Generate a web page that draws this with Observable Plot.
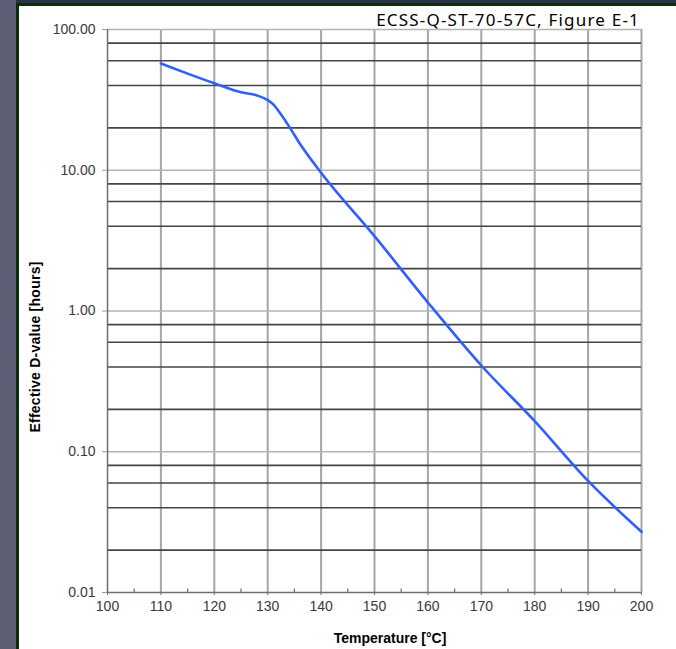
<!DOCTYPE html>
<html><head><meta charset="utf-8">
<script src="https://cdn.jsdelivr.net/npm/d3@7"></script>
<script src="https://cdn.jsdelivr.net/npm/@observablehq/plot@0.6"></script>
<style>
html,body{margin:0;padding:0}
body{width:676px;height:649px;background:#5e5e76;position:relative;overflow:hidden;font-family:"Liberation Sans",Arial,sans-serif}
#topband{position:absolute;left:16px;top:0;width:660px;height:3px;background:#2b3050}
#panel{position:absolute;left:16px;top:3px;width:660px;height:646px;background:#0b2e0b}
#inner{position:absolute;left:19px;top:6px;width:657px;height:643px;background:#fff}
#chart{position:absolute;left:0;top:0}
#title{position:absolute;right:36px;top:2px;font-family:"Noto Sans",sans-serif;font-size:17px;color:#000;letter-spacing:1.2px;white-space:nowrap}
#ylab{position:absolute;left:16px;top:341px;font-weight:bold;font-size:14px;color:#000;letter-spacing:0.25px;transform:translate(-50%,-50%) rotate(-90deg);white-space:nowrap}
#xlab{position:absolute;left:371px;top:632px;font-weight:bold;font-size:14px;color:#000;transform:translate(-50%,-50%);white-space:nowrap}
</style></head>
<body>
<div id="topband"></div>
<div id="panel"></div>
<div id="inner">
  <div id="chart"></div>
  <div id="title">ECSS-Q-ST-70-57C, Figure E-1</div>
  <div id="ylab">Effective D-value [hours]</div>
  <div id="xlab">Temperature [°C]</div>
</div>
<script>
const temps = [110, 115, 120, 125, 128, 130, 131, 132, 134, 136, 140, 150, 160, 170, 180, 190, 200];
const dvals = [57.3, 48.6, 41.5, 35.8, 34, 31.5, 29.5, 26.5, 20.5, 15.5, 9.6, 3.4, 1.15, 0.41, 0.165, 0.062, 0.027];
const xTicks = [100, 110, 120, 130, 140, 150, 160, 170, 180, 190, 200];
const xMinor = [105, 115, 125, 135, 145, 155, 165, 175, 185, 195];
const yDecades = [0.01, 0.1, 1, 10, 100];
const yMinor = [0.02, 0.04, 0.06, 0.08, 0.2, 0.4, 0.6, 0.8, 2, 4, 6, 8, 20, 40, 60, 80];

const data = temps.map((t, i) => ({t, d: dvals[i]}));

const chart = Plot.plot({
  width: 657,
  height: 643,
  marginLeft: 88,
  marginRight: 35,
  marginTop: 23,
  marginBottom: 57,
  style: {fontFamily: "'Liberation Sans', Arial, sans-serif", fontSize: "14px", color: "#3a3a3a", background: "transparent"},
  x: {domain: [100, 200]},
  y: {type: "log", domain: [0.01, 100]},
  marks: [
    Plot.ruleX(xTicks.slice(1), {stroke: "#a6a6a6", strokeWidth: 2}),
    Plot.ruleY(yMinor, {stroke: "#444", strokeWidth: 1.7}),
    Plot.ruleY(yDecades.slice(1), {stroke: "#b4b4b4", strokeWidth: 1.6}),
    Plot.ruleX([100], {stroke: "#6e6e6e", strokeWidth: 1.5}),
    Plot.ruleY([0.01], {stroke: "#6e6e6e", strokeWidth: 1.5}),
    Plot.ruleX(xMinor, {y1: 0.01, y2: 0.0106, stroke: "#6e6e6e", strokeWidth: 1.2}),
    Plot.axisY({ticks: yDecades, tickFormat: d3.format(".2f"), tickSize: 5, tickPadding: 7, stroke: "#999", label: null, fontSize: 14}),
    Plot.axisX({ticks: xTicks, tickFormat: d => String(d), tickSize: 3, tickPadding: 6, stroke: "#6e6e6e", label: null, fontSize: 14}),
    Plot.line(data, {x: "t", y: "d", stroke: "#2f5fff", strokeWidth: 2.6, curve: "monotone-x"})
  ]
});
document.getElementById("chart").appendChild(chart);
</script>
</body></html>
